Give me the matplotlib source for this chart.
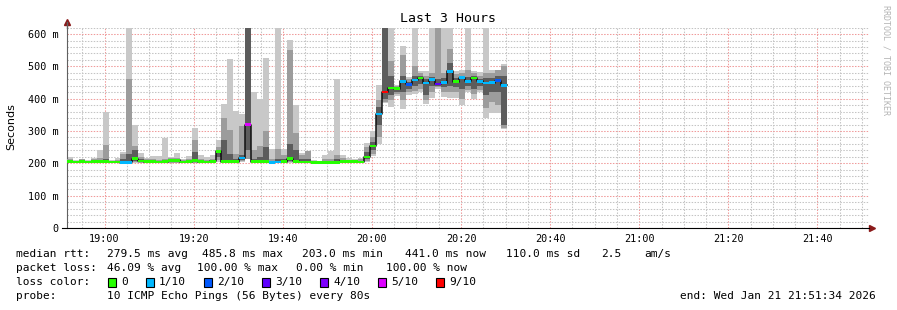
import matplotlib
matplotlib.use('Agg')
import matplotlib.pyplot as plt
from matplotlib.patches import Rectangle
from matplotlib.ticker import MultipleLocator, FuncFormatter
import numpy as np

# median rtt per 80s step (ms), loss count out of 10
median = [205, 204, 205, 204, 205, 205, 205, 204, 204, 202,
          203, 215, 207, 205, 205, 204, 205, 208, 209, 204,
          205, 208, 205, 204, 206, 237, 205, 205, 205, 216,
          320, 205, 205, 205, 203, 204, 205, 215, 206, 204,
          204, 203, 203, 203, 203, 203, 206, 205, 205, 204,
          220, 254, 353, 421, 433, 431, 454, 444, 458, 464,
          448, 459, 445, 450, 485, 453, 465, 454, 464, 454,
          448, 450, 456, 441]
loss = [0, 0, 0, 0, 0, 0, 0, 0, 0, 1,
        1, 0, 0, 0, 0, 0, 0, 0, 0, 0,
        0, 0, 0, 0, 0, 0, 0, 0, 0, 1,
        5, 0, 0, 0, 1, 1, 0, 0, 0, 0,
        0, 0, 0, 0, 0, 0, 0, 0, 0, 0,
        0, 0, 1, 9, 0, 0, 1, 2, 1, 0,
        1, 1, 3, 1, 1, 0, 1, 1, 0, 1,
        1, 1, 2, 1]

# smoke bands (ms): outer (lightest), middle, inner (darkest)
lo1 = [201, 201, 201, 201, 201, 201, 201, 201, 201, 200,
       200, 202, 201, 201, 201, 201, 201, 201, 201, 201,
       201, 201, 201, 201, 201, 203, 201, 201, 201, 203,
       213, 201, 201, 201, 200, 200, 201, 202, 201, 201,
       201, 201, 201, 201, 201, 201, 201, 201, 201, 201,
       205, 222, 260, 386, 373, 408, 367, 411, 416, 420,
       383, 403, 430, 405, 402, 402, 381, 420, 398, 420,
       340, 357, 357, 305]
hi1 = [220, 210, 214, 210, 218, 241, 359, 210, 216, 235,
       619, 320, 233, 218, 222, 222, 278, 220, 233, 214,
       222, 309, 225, 219, 225, 272, 383, 522, 362, 353,
       620, 421, 398, 526, 243, 620, 243, 581, 379, 233,
       237, 210, 207, 226, 237, 462, 226, 216, 214, 218,
       262, 299, 441, 620, 620, 443, 563, 467, 620, 487,
       487, 620, 620, 620, 620, 487, 490, 620, 487, 483,
       620, 490, 490, 506]
lo2 = [202, 202, 202, 202, 202, 202, 202, 202, 202, 201,
       201, 204, 202, 202, 202, 202, 202, 202, 202, 202,
       202, 202, 202, 202, 202, 210, 202, 202, 202, 206,
       213, 202, 202, 202, 201, 201, 202, 204, 202, 202,
       202, 202, 202, 202, 202, 202, 202, 202, 202, 202,
       208, 230, 280, 390, 395, 415, 396, 420, 425, 430,
       395, 420, 435, 420, 420, 420, 400, 428, 415, 428,
       370, 390, 380, 309]
hi2 = [215, 207, 212, 207, 212, 218, 258, 207, 210, 230,
       461, 253, 220, 212, 214, 210, 215, 216, 218, 210,
       212, 272, 214, 210, 215, 250, 340, 303, 230, 315,
       620, 240, 253, 300, 215, 243, 225, 551, 293, 225,
       237, 207, 205, 212, 215, 226, 218, 210, 210, 212,
       250, 280, 397, 620, 517, 440, 536, 460, 500, 478,
       470, 480, 620, 480, 555, 475, 478, 490, 478, 470,
       480, 478, 490, 500]
lo3 = [203, 203, 203, 203, 203, 203, 203, 203, 203, 202,
       202, 206, 203, 203, 203, 203, 203, 204, 204, 203,
       203, 204, 203, 203, 203, 220, 203, 203, 203, 210,
       240, 203, 203, 203, 202, 202, 203, 206, 203, 203,
       203, 203, 203, 203, 203, 203, 203, 203, 203, 203,
       212, 240, 320, 400, 410, 420, 420, 430, 440, 445,
       410, 440, 440, 435, 440, 435, 430, 438, 430, 438,
       410, 420, 420, 320]
hi3 = [208, 205, 208, 205, 208, 210, 215, 205, 206, 215,
       228, 241, 212, 208, 208, 206, 208, 212, 213, 207,
       208, 235, 208, 206, 209, 242, 272, 230, 212, 227,
       620, 215, 220, 250, 208, 212, 212, 260, 240, 212,
       215, 205, 204, 206, 207, 212, 210, 207, 207, 207,
       235, 265, 375, 620, 470, 437, 471, 452, 470, 470,
       460, 468, 460, 465, 510, 465, 470, 468, 470, 462,
       465, 465, 470, 470]

loss_colors = {0: '#26ff00', 1: '#00b8ff', 2: '#0059ff', 3: '#5e00ff',
               4: '#7e00ff', 5: '#dd00ff', 9: '#ff0000'}
loss_labels = ['0', '1/10', '2/10', '3/10', '4/10', '5/10', '9/10']

# time axis in minutes of the day
t_start = 18 * 60 + 51 + 34 / 60.0
t_end = t_start + 180
step = 80 / 60.0

W, H = 897, 310
fig = plt.figure(figsize=(W / 100, H / 100), dpi=100)
ax = fig.add_axes([67 / W, 82 / H, 802 / W, 200.4 / H])

n = len(median)
x = t_start + np.arange(n) * step

ax.bar(x, np.array(hi1) - np.array(lo1), bottom=lo1, width=step, align='edge', color='#c8c8c8', linewidth=0, zorder=2)
ax.bar(x, np.array(hi2) - np.array(lo2), bottom=lo2, width=step, align='edge', color='#9c9c9c', linewidth=0, zorder=3)
ax.bar(x, np.array(hi3) - np.array(lo3), bottom=lo3, width=step, align='edge', color='#5c5c5c', linewidth=0, zorder=4)

# median: black step line + loss-coloured segments
xs = np.append(x, x[-1] + step)
ax.step(xs, median + [median[-1]], where='post', color='#101010', lw=1.1, zorder=5)
ax.bar(x, 8, bottom=np.array(median) - 4, width=step, align='edge',
       color=[loss_colors[l] for l in loss], linewidth=0, zorder=6)

ax.set_xlim(t_start, t_end)
ax.set_ylim(0, 620)

# grid
ax.xaxis.set_major_locator(MultipleLocator(20))
ax.xaxis.set_minor_locator(MultipleLocator(5))
ax.yaxis.set_major_locator(MultipleLocator(100))
ax.yaxis.set_minor_locator(MultipleLocator(20))
ax.grid(which='minor', color='#c4c4c4', lw=0.75, ls=(0, (1.4, 1.4)), zorder=0)
ax.grid(which='major', color='#f09a9a', lw=0.75, ls=(0, (1.4, 1.4)), zorder=1)
ax.set_axisbelow(True)

mono = 'DejaVu Sans Mono'
ax.xaxis.set_major_formatter(FuncFormatter(lambda v, p: '%02d:%02d' % (int(round(v)) // 60, int(round(v)) % 60)))
ax.yaxis.set_major_formatter(FuncFormatter(lambda v, p: '0' if v == 0 else '%d m' % v))
ax.tick_params(which='both', length=0)
ax.tick_params(axis='x', pad=4, labelsize=7.3)
ax.tick_params(axis='y', pad=6, labelsize=7.3)
for lab in ax.get_xticklabels() + ax.get_yticklabels():
    lab.set_fontfamily(mono)

for s in ['top', 'right']:
    ax.spines[s].set_visible(False)
ax.spines['left'].set_color('#606060')
ax.spines['bottom'].set_color('black')
ax.spines['bottom'].set_bounds(t_start - 5 / 802 * 180, t_end)

# axis arrows
ax.plot([0], [1.03], marker='^', color='#8b1a1a', ms=4, transform=ax.transAxes, clip_on=False)
ax.plot([1.004], [0], marker='>', color='#8b1a1a', ms=4, transform=ax.transAxes, clip_on=False)
ax.plot([0, 0], [1.0, 1.03], color='#606060', lw=1, transform=ax.transAxes, clip_on=False)

fig.text(448 / W, 1 - 19 / H, 'Last 3 Hours', ha='center', va='center', fontsize=9.5, family=mono)
fig.text(11 / W, 1 - 127 / H, 'Seconds', rotation=90, ha='center', va='center', fontsize=8)
fig.text(886 / W, 1 - 60 / H, 'RRDTOOL / TOBI OETIKER', rotation=270, ha='center', va='center',
         fontsize=6, family=mono, color='#b4b4b4')

# legend
fs = 8.0
def put(px, py, s):
    fig.text(px / W, 1 - py / H, s, ha='left', va='center', fontsize=fs, family=mono)

put(16, 254, 'median rtt:')
put(107, 254, '279.5 ms avg')
put(202, 254, '485.8 ms max')
put(302, 254, '203.0 ms min')
put(405, 254, '441.0 ms now')
put(506, 254, '110.0 ms sd')
put(601, 254, '2.5')
put(644, 254, 'am/s')

put(16, 268, 'packet loss:')
put(107, 268, '46.09 % avg')
put(197, 268, '100.00 % max')
put(296, 268, '0.00 % min')
put(386, 268, '100.00 % now')

put(16, 282, 'loss color:')
for i, lab in enumerate(loss_labels):
    bx = 108 + i * 58 if i == 0 else 146 + (i - 1) * 58
    c = loss_colors[[0, 1, 2, 3, 4, 5, 9][i]]
    fig.add_artist(Rectangle((bx / W, 1 - 286.5 / H), 8 / W, 9 / H, transform=fig.transFigure,
                             facecolor=c, edgecolor='black', lw=0.8))
    put(bx + 13, 282, lab)

put(16, 296, 'probe:')
put(107, 296, '10 ICMP Echo Pings (56 Bytes) every 80s')
put(680, 296, 'end: Wed Jan 21 21:51:34 2026')

fig.savefig('out.png', dpi=100)
